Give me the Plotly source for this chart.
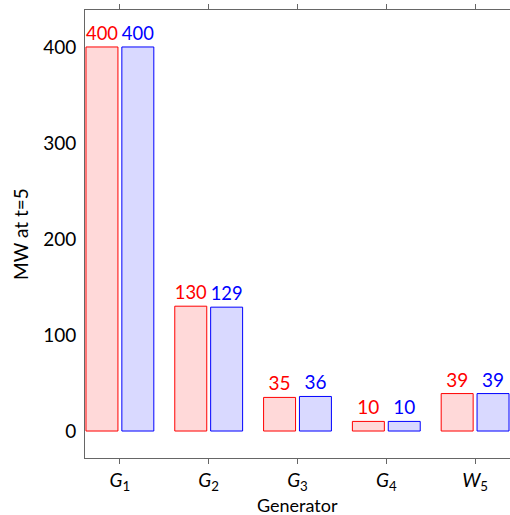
import plotly.graph_objects as go

generators = ["<i>G</i><sub>1</sub>", "<i>G</i><sub>2</sub>", "<i>G</i><sub>3</sub>", "<i>G</i><sub>4</sub>", "<i>W</i><sub>5</sub>"]
series_a = [400, 130, 35, 10, 39]
series_b = [400, 129, 36, 10, 39]
y_ticks = [0, 100, 200, 300, 400]

FONT = "Lato"
fig = go.Figure()
fig.add_trace(go.Bar(
    x=generators, y=series_a, width=0.36, offset=-0.382,
    marker=dict(color="rgb(255,217,217)", line=dict(color="red", width=1)),
    text=[str(v) for v in series_a], textposition="outside",
    textfont=dict(color="red", size=19, family=FONT), cliponaxis=False,
))
fig.add_trace(go.Bar(
    x=generators, y=series_b, width=0.36, offset=0.022,
    marker=dict(color="rgb(217,217,255)", line=dict(color="blue", width=1)),
    text=[str(v) for v in series_b], textposition="outside",
    textfont=dict(color="blue", size=19, family=FONT), cliponaxis=False,
))
fig.update_layout(
    width=510, height=515, showlegend=False,
    margin=dict(l=85, r=0, t=10, b=57),
    plot_bgcolor="white", paper_bgcolor="white",
    font=dict(family=FONT, size=19, color="black"),
    barmode="overlay",
    xaxis=dict(range=[-0.393, 4.393], showline=True, linecolor="#666", linewidth=1,
               mirror="ticks", ticks="outside", ticklen=5, tickcolor="#666",
               automargin=False, tickfont=dict(size=19),
               showgrid=False, zeroline=False),
    yaxis=dict(range=[-28.1, 438.5], showline=True, linecolor="#666", linewidth=1,
               mirror=True, ticks="", ticklabelstandoff=4,
               automargin=False, tickfont=dict(size=19),
               tickvals=y_ticks, showgrid=False, zeroline=False),
    annotations=[
        dict(text="Generator", xref="paper", yref="paper", x=0.5, y=0,
             xanchor="center", yanchor="middle", yshift=-47, showarrow=False,
             font=dict(size=18)),
        dict(text="MW at t=5", xref="paper", yref="paper", x=0, y=0.5,
             xanchor="center", yanchor="middle", xshift=-65, textangle=-90,
             showarrow=False, font=dict(size=19)),
    ],
)
fig.write_html(
    "out.html",
    config={"displayModeBar": False},
    post_script="document.body.style.margin='0';document.body.style.overflow='hidden';",
)
